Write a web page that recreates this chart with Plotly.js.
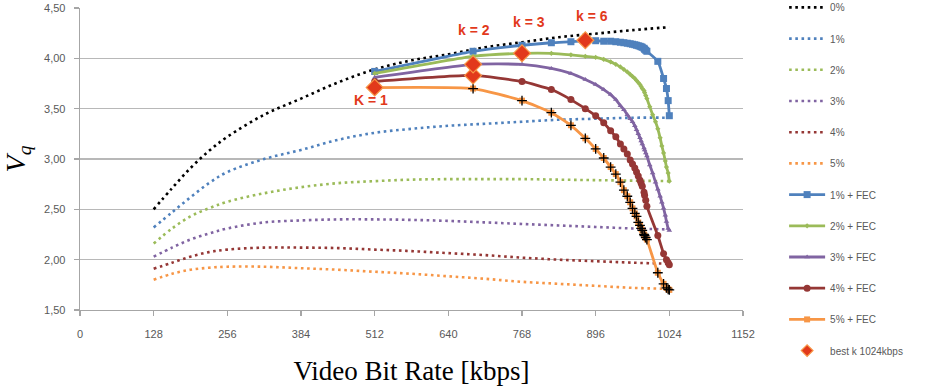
<!DOCTYPE html>
<html>
<head>
<meta charset="utf-8">
<script src="https://cdn.plot.ly/plotly-3.0.1.min.js"></script>
<style>html,body{margin:0;padding:0;background:#fff}#chart{width:925px;height:388px}</style>
</head>
<body>
<div id="chart"></div>
<script>
// ---- data ----
const rateX = [128,160,192,224,256,320,384,448,512,576,640,704,768,832,896,960,1024];
const loss0 = [2.50,2.71,2.91,3.08,3.22,3.44,3.60,3.76,3.89,3.98,4.04,4.11,4.16,4.21,4.245,4.28,4.31];
const loss1 = [2.32,2.47,2.62,2.76,2.87,3.00,3.09,3.19,3.26,3.30,3.33,3.35,3.37,3.39,3.40,3.41,3.41];
const loss2 = [2.16,2.31,2.43,2.51,2.575,2.66,2.72,2.76,2.78,2.795,2.80,2.80,2.80,2.795,2.79,2.785,2.78];
const loss3 = [2.03,2.12,2.20,2.26,2.31,2.37,2.39,2.40,2.40,2.395,2.385,2.37,2.355,2.34,2.325,2.31,2.30];
const loss4 = [1.91,1.97,2.03,2.075,2.10,2.12,2.12,2.115,2.10,2.085,2.065,2.045,2.02,2.00,1.985,1.97,1.96];
const loss5 = [1.80,1.86,1.90,1.92,1.93,1.93,1.915,1.90,1.88,1.86,1.835,1.81,1.78,1.76,1.74,1.72,1.71];

const fecX = [512,683,768,819,853,878,896,910,922,931,939,945,951,956,960,964,967,970,973,975,977,980,981,983,985,1004,1014,1019,1022,1024];
const fec1 = [3.87,4.07,4.13,4.155,4.165,4.175,4.175,4.17,4.17,4.165,4.16,4.155,4.15,4.145,4.14,4.135,4.13,4.125,4.12,4.115,4.11,4.10,4.09,4.08,4.07,3.97,3.80,3.70,3.58,3.43];
const fec4 = [3.77,3.83,3.77,3.69,3.59,3.50,3.43,3.36,3.28,3.22,3.15,3.10,3.05,2.99,2.95,2.91,2.87,2.83,2.79,2.76,2.73,2.67,2.64,2.59,2.53,2.24,2.06,2.00,1.97,1.95];
const fec5 = [3.71,3.70,3.58,3.46,3.335,3.205,3.10,3.01,2.92,2.85,2.77,2.69,2.63,2.57,2.51,2.46,2.43,2.37,2.34,2.31,2.29,2.25,2.24,2.22,2.20,1.87,1.76,1.72,1.705,1.70];

const fecXDense = [512,683,768,819,853,878,896,910,922,931,939,945,951,956,960,964,967,970,973,975,977,980,981,983,985,990,995,1000,1004,1008,1011,1014,1017,1019,1022,1024];
const fec2 = [3.85,4.02,4.05,4.05,4.035,4.02,4.01,3.99,3.965,3.94,3.915,3.89,3.865,3.84,3.82,3.80,3.78,3.76,3.74,3.72,3.70,3.68,3.66,3.63,3.60,3.52,3.44,3.37,3.30,3.21,3.13,3.06,2.98,2.92,2.86,2.78];
const fec3 = [3.81,3.94,3.94,3.90,3.85,3.79,3.74,3.69,3.64,3.59,3.53,3.49,3.44,3.40,3.37,3.33,3.29,3.25,3.21,3.18,3.15,3.11,3.09,3.06,3.03,2.94,2.86,2.77,2.70,2.63,2.57,2.51,2.44,2.38,2.31,2.29];

const bestX = [512,683,683,768,878];
const bestY = [3.71,3.83,3.94,4.05,4.18];

const labelText = ['K = 1','k = 2','k = 3','k = 6'];
const labelX = [506,685,780,890];
const labelY = [3.585,4.285,4.36,4.425];

const xTicks = [0,128,256,384,512,640,768,896,1024,1152];

// ---- styles ----
const C = {black:'#000000', blue:'#4F81BD', green:'#9BBB59', purple:'#8064A2', red:'#953735', orange:'#F79646'};

function dotted(name, y, color, g){
  return {x: rateX, y: y, name: name, type:'scatter', mode:'lines', legendgroup:g,
    line:{color:color, width:2.6, dash:'2.6px,3.6px', shape:'spline', smoothing:1}, hoverinfo:'skip'};
}
function fec(name, x, y, color, sym, size, g){
  return {x:x, y:y, name:name, type:'scatter', mode:'lines+markers', legendgroup:g,
    line:{color:color, width:2.8, shape:'spline', smoothing:0.5},
    marker:{symbol:sym, size:size, color:color}};
}

const bestMarker = {symbol:'diamond', color:'#E2391B', line:{color:'#F79646', width:1.2}};

const traces = [
  dotted('0%', loss0, C.black, 'a'),
  dotted('1%', loss1, C.blue, 'b'),
  dotted('2%', loss2, C.green, 'c'),
  dotted('3%', loss3, C.purple, 'd'),
  dotted('4%', loss4, C.red, 'e'),
  dotted('5%', loss5, C.orange, 'f'),
  fec('1% + FEC', fecX, fec1, C.blue, 'square', 7, 'g'),
  fec('2% + FEC', fecXDense, fec2, C.green, 'diamond', 4, 'h'),
  fec('3% + FEC', fecXDense, fec3, C.purple, 'triangle-up', 5, 'i'),
  fec('4% + FEC', fecX, fec4, C.red, 'circle', 7, 'j'),
  fec('5% + FEC', fecX, fec5, C.orange, 'square', 6, 'k'),
  {x:fecX.slice(1), y:fec5.slice(1), type:'scatter', mode:'markers', legendgroup:'k', showlegend:false,
    marker:{symbol:'cross-thin-open', size:7, color:'#000', line:{width:1.3, color:'#000'}}, hoverinfo:'skip'},
  {x:bestX, y:bestY, name:'best k 1024kbps', type:'scatter', mode:'markers', legendgroup:'l', showlegend:false,
    marker:Object.assign({size:13}, bestMarker)},
  {x:[null], y:[null], name:'best k 1024kbps', type:'scatter', mode:'markers', legendgroup:'l',
    marker:Object.assign({size:9}, bestMarker)}
];

const annotations = labelText.map((t,i)=>({
  x:labelX[i], y:labelY[i], xref:'x', yref:'y', text:'<b>'+t+'</b>', showarrow:false,
  font:{family:'Liberation Sans, Arial, sans-serif', size:14, color:'#E2391B'}
}));

const tickFont = {family:'Liberation Sans, Arial, sans-serif', size:11, color:'#595959'};

const layout = {
  width:925, height:388,
  margin:{l:80, r:182, t:8, b:78, pad:0, autoexpand:false},
  paper_bgcolor:'#fff', plot_bgcolor:'#fff',
  separators:', ',
  showlegend:true,
  legend:{x:1.062, y:1.05, xanchor:'left', yanchor:'top', traceorder:'grouped', tracegroupgap:12.2,
    maxheight:420, itemwidth:36,
    font:{family:'Liberation Sans, Arial, sans-serif', size:10, color:'#595959'}, bgcolor:'rgba(0,0,0,0)'},
  xaxis:{range:[0,1152], tickvals:xTicks, ticktext:xTicks.map(String), showgrid:false, zeroline:false,
    showline:true, linecolor:'#A6A6A6', linewidth:1.3, ticks:'outside', ticklen:5, tickcolor:'#A6A6A6', tickwidth:1.3,
    tickfont:tickFont, ticklabelstandoff:8,
    title:{text:'Video Bit Rate [kbps]', font:{family:'Liberation Serif, DejaVu Serif, serif', size:27, color:'#000'}, standoff:22}},
  yaxis:{range:[1.5,4.5], dtick:0.5, tickformat:'.2f', showgrid:true, gridcolor:'#B8B8B8', gridwidth:1.3, zeroline:false,
    showline:true, linecolor:'#A6A6A6', linewidth:1.3, ticks:'outside', ticklen:5, tickcolor:'#A6A6A6', tickwidth:1.3,
    tickfont:tickFont, ticklabelstandoff:6,
    title:{text:'<i>V<sub>q</sub></i>', font:{family:'Liberation Serif, DejaVu Serif, serif', size:28, color:'#000'}, standoff:10}},
  annotations:annotations
};

Plotly.newPlot('chart', traces, layout, {displayModeBar:false, staticPlot:true});
</script>
</body>
</html>
